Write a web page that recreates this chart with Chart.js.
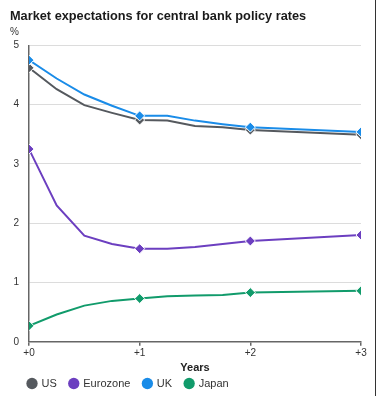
<!DOCTYPE html>
<html>
<head>
<meta charset="utf-8">
<script src="https://cdn.jsdelivr.net/npm/chart.js@4"></script>
<style>
html,body{margin:0;padding:0;background:#fff;}
#wrap{position:relative;width:377px;height:412px;}
#edge{position:absolute;left:375px;top:0;width:1px;height:396px;background:#333;}
</style>
</head>
<body>
<div id="wrap"><canvas id="c" width="377" height="412"></canvas><div id="edge"></div></div>
<script>
const TITLE = "Market expectations for central bank policy rates";
const UNIT = "%";
const X_TITLE = "Years";
const horizons = [0, 0.25, 0.5, 0.75, 1, 1.25, 1.5, 1.75, 2, 3];
const us       = [4.62, 4.26, 3.99, 3.86, 3.74, 3.73, 3.64, 3.62, 3.57, 3.49];
const eurozone = [3.25, 2.30, 1.79, 1.65, 1.57, 1.57, 1.60, 1.65, 1.70, 1.80];
const uk       = [4.75, 4.44, 4.17, 3.98, 3.81, 3.81, 3.73, 3.67, 3.62, 3.54];
const japan    = [0.27, 0.46, 0.61, 0.69, 0.73, 0.77, 0.78, 0.79, 0.83, 0.86];
const yTicks = [0, 1, 2, 3, 4, 5];
const xTicks = [0, 1, 2, 3];

function pts(vals){ return horizons.map((h,i)=>({x:h,y:vals[i]})); }
function ds(label, vals, color, order){
  return {
    label, data: pts(vals), borderColor: color, backgroundColor: color,
    borderWidth: 2, tension: 0, order,
    pointStyle: 'rectRot',
    pointRadius: ctx => (Number.isInteger(ctx.raw && ctx.raw.x) ? 5 : 0),
    pointHoverRadius: 0,
    pointBorderColor: '#fff', pointBorderWidth: 1, pointBackgroundColor: color
  };
}
const font = "'Liberation Sans', Arial, sans-serif";
Chart.defaults.font.family = font;
Chart.defaults.color = '#333';

const legendShift = {
  id: 'legendShift',
  afterLayout(chart){
    const lg = chart.legend;
    if (!lg) return;
    lg.top -= 10; lg.bottom -= 10;
    lg.left += 5; lg.right += 5;
  }
};

new Chart(document.getElementById('c'), {
  type: 'line',
  plugins: [legendShift],
  data: { datasets: [
    ds('US', us, '#55595e', 3),
    ds('Eurozone', eurozone, '#6c3fc0', 2),
    ds('UK', uk, '#1a8ce8', 1),
    ds('Japan', japan, '#119b6b', 0)
  ]},
  options: {
    responsive: false, animation: false, devicePixelRatio: 1,
    layout: { padding: { left: 10, right: 16, top: 6, bottom: 3 } },
    plugins: {
      tooltip: { enabled: false },
      title: { display: true, text: TITLE, align: 'start', color: '#1a1a1a',
        font: { size: 12.75, weight: 'bold' }, padding: { top: 3, bottom: 2 } },
      subtitle: { display: true, text: UNIT, align: 'start', color: '#333',
        font: { size: 10 }, padding: { top: 0, bottom: 7 } },
      legend: { position: 'bottom', align: 'start',
        labels: { usePointStyle: true, pointStyle: 'circle', boxWidth: 8, boxHeight: 8,
          padding: 13, color: '#333', font: { size: 11 },
          generateLabels(chart){
            return chart.data.datasets.map((d,i)=>({text:d.label, fillStyle:d.borderColor, strokeStyle:d.borderColor, lineWidth:0, pointStyle:'circle', datasetIndex:i, fontColor:'#333'}));
          } } }
    },
    scales: {
      x: { type: 'linear', min: 0, max: 3,
        afterBuildTicks: s => { s.ticks = xTicks.map(v=>({value:v})); },
        ticks: { callback: v => '+' + v, font: { size: 10 }, color: '#333', padding: 1, maxRotation: 0 },
        grid: { drawOnChartArea: false, tickLength: 4, color: '#666', lineWidth: 1.5 },
        border: { color: '#666', width: 1.5 },
        title: { display: true, text: X_TITLE, font: { size: 11, weight: 'bold' }, color: '#222', padding: { top: 2, bottom: 0 } }
      },
      y: { min: 0, max: 5,
        afterBuildTicks: s => { s.ticks = yTicks.map(v=>({value:v})); },
        afterFit: s => { s.width = 19; },
        ticks: { font: { size: 10 }, color: '#333', padding: 10 },
        grid: { color: '#dcdcdc', lineWidth: 1, drawTicks: false },
        border: { color: '#666', width: 1.5 }
      }
    }
  }
});
</script>
</body>
</html>
